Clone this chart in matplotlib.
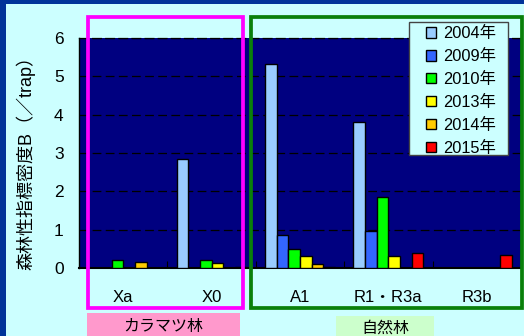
import matplotlib
matplotlib.use("Agg")
import matplotlib.pyplot as plt
from matplotlib.patches import Rectangle
import numpy as np

plt.rcParams['font.family'] = ['Liberation Sans', 'Noto Sans CJK JP', 'DejaVu Sans']

sites = ["Xa", "X0", "A1", "R1・R3a", "R3b"]
years = ["2004年", "2009年", "2010年", "2013年", "2014年", "2015年"]
colors = ["#99CCFF", "#3366FF", "#00FF00", "#FFFF00", "#FFCC00", "#FF0000"]

v2004 = [0, 2.85, 5.32, 3.80, 0]
v2009 = [0, 0, 0.87, 0.96, 0]
v2010 = [0.20, 0.20, 0.50, 1.86, 0]
v2013 = [0, 0.12, 0.31, 0.31, 0]
v2014 = [0.16, 0, 0.11, 0, 0]
v2015 = [0, 0.02, 0.03, 0.38, 0.35]
series = [v2004, v2009, v2010, v2013, v2014, v2015]

group_labels = ["カラマツ林", "自然林"]

W, H = 524, 336
fig = plt.figure(figsize=(W / 100, H / 100), dpi=100)
fig.patch.set_facecolor("#CCFFFF")


def fx(px):
    return px / W


def fy(py):
    return 1 - py / H


# dark blue frame at top and left
fig.patches.append(Rectangle((0, fy(4)), 1, 4 / H, transform=fig.transFigure,
                             facecolor="#003399", edgecolor="none"))
fig.patches.append(Rectangle((0, 0), fx(6), 1, transform=fig.transFigure,
                             facecolor="#003399", edgecolor="none"))

ax = fig.add_axes([fx(79), fy(268), fx(521) - fx(79), (268 - 38) / H])
ax.set_facecolor("#000080")

x = np.arange(len(sites))
bw = 0.132
for i, (vals, c, lab) in enumerate(zip(series, colors, years)):
    ax.bar(x + (i - 2.5) * bw, vals, bw, color=c, edgecolor="black",
           linewidth=1.0, label=lab, zorder=3)

ax.set_xlim(-0.5, 4.5)
ax.set_ylim(0, 6)
ax.set_yticks(range(7))
ax.yaxis.grid(True, color="black", linestyle=(0, (7, 3.5)), linewidth=0.9, zorder=1)
ax.set_axisbelow(True)
ax.tick_params(axis="y", length=0, pad=11, labelsize=12.5)
ax.set_xticks(x)
ax.set_xticklabels(sites, fontsize=12)
ax.set_xticks([0.5, 1.5, 2.5, 3.5], minor=True)
ax.tick_params(axis="x", which="major", length=0, pad=16)
ax.tick_params(axis="x", which="minor", direction="in", length=5, width=0.8, color="black")

ax.spines["right"].set_visible(False)
ax.spines["top"].set_linestyle((0, (7, 3.5)))
ax.spines["top"].set_linewidth(0.9)
ax.spines["left"].set_linewidth(1.0)
ax.spines["bottom"].set_linewidth(1.5)

ax.set_ylabel("森林性指標密度B（／trap）", fontsize=13)
ax.yaxis.set_label_coords((35 - 79) / (521 - 79), (268 - 158) / (268 - 38))

# legend frame drawn separately so the padding matches
fig.patches.append(Rectangle((fx(409), fy(155)), fx(508) - fx(409), (155 - 22) / H,
                             transform=fig.transFigure, facecolor="#CCFFFF",
                             edgecolor="#444444", linewidth=1.0, zorder=5))
handles, labels = ax.get_legend_handles_labels()
leg = fig.legend(handles, labels, loc="upper left",
                 bbox_to_anchor=(fx(426), fy(26)), fontsize=11.8, frameon=False,
                 handlelength=0.62, handleheight=0.62, handletextpad=0.4,
                 labelspacing=0.48, borderpad=0, borderaxespad=0)
leg.set_zorder(6)

# site group boxes
fig.patches.append(Rectangle((fx(88), fy(308)), fx(243) - fx(88), (308 - 17) / H,
                             transform=fig.transFigure, facecolor="none",
                             edgecolor="#FF00FF", linewidth=2.7, zorder=20))
fig.patches.append(Rectangle((fx(251), fy(308)), fx(522) - fx(251), (308 - 17) / H,
                             transform=fig.transFigure, facecolor="none",
                             edgecolor="#0A800A", linewidth=2.7, zorder=20))

# group label boxes
fig.patches.append(Rectangle((fx(87), 0), fx(240) - fx(87), (336 - 313) / H,
                             transform=fig.transFigure, facecolor="#FF99CC",
                             edgecolor="none"))
fig.patches.append(Rectangle((fx(336), 0), fx(434) - fx(336), (336 - 316) / H,
                             transform=fig.transFigure, facecolor="#CCFFCC",
                             edgecolor="none"))
fig.text(fx(163), fy(327), group_labels[0], ha="center", va="center", fontsize=11.5)
fig.text(fx(385), fy(328), group_labels[1], ha="center", va="center", fontsize=11.5)

fig.savefig("out.png", dpi=100, facecolor=fig.get_facecolor())
